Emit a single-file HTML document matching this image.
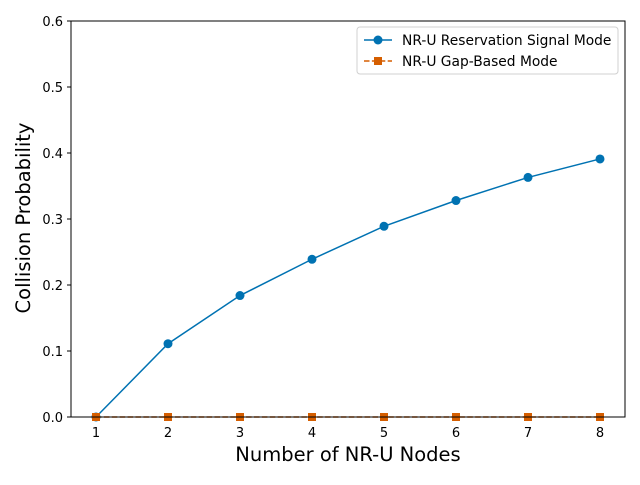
<!DOCTYPE html>
<html><head><meta charset="utf-8"><style>
body{margin:0;background:#fff}
svg text{font-family:"DejaVu Sans","Liberation Sans",sans-serif;fill:#000}
</style></head><body>
<svg id="chart" width="640" height="480" viewBox="0 0 640 480">
<rect x="0" y="0" width="640" height="480" fill="#fff"/>
<g id="grid"></g>
<g id="series"></g>
<rect x="71" y="21" width="554" height="396" fill="none" stroke="#000" stroke-width="1"/>
<text x="348" y="461" font-size="19.5" text-anchor="middle">Number of NR-U Nodes</text>
<text transform="translate(30,218) rotate(-90)" font-size="19.5" text-anchor="middle">Collision Probability</text>
<g>
<rect x="357" y="27" width="261" height="47" rx="3" fill="#fff" stroke="#ccc" opacity="0.9"/>
<g>
<line x1="364" y1="40" x2="392" y2="40" stroke="#0072B2" stroke-width="1.5"/>
<circle cx="378" cy="40" r="4.5" fill="#0072B2"/>
<text x="402" y="45" font-size="13.8">NR-U Reservation Signal Mode</text>
</g>
<g>
<line x1="364" y1="61" x2="392" y2="61" stroke="#D55E00" stroke-width="1.5" stroke-dasharray="5.5,2.4"/>
<rect x="374" y="57" width="8" height="8" fill="#D55E00"/>
<text x="402" y="66" font-size="13.8">NR-U Gap-Based Mode</text>
</g>
</g>
</svg>
<script>
const nodes=[1,2,3,4,5,6,7,8];
const reservation=[0,0.111,0.184,0.239,0.289,0.328,0.363,0.391];
const gapBased=[0,0,0,0,0,0,0,0];
const yTicks=[0,0.1,0.2,0.3,0.4,0.5,0.6];
const yTickLabels=["0.0","0.1","0.2","0.3","0.4","0.5","0.6"];
const NS="http://www.w3.org/2000/svg";
function xs(v){return 96+(v-1)*72;}
function ys(v){return 417-v*660;}
const grid=document.getElementById('grid'),ser=document.getElementById('series');
function mk(tag,attrs,parent){const e=document.createElementNS(NS,tag);for(const k in attrs)e.setAttribute(k,attrs[k]);parent.appendChild(e);return e;}
nodes.forEach(n=>{
 const t=mk('line',{x1:xs(n),x2:xs(n),y1:417,y2:421,stroke:'#000'},grid);
 
 
 const l=mk('text',{x:xs(n),y:437,'font-size':13,'text-anchor':'middle'},grid);
 l.textContent=n;
 
 
});
yTicks.forEach((v,i)=>{
 const t=mk('line',{x1:67,x2:71,y1:ys(v),y2:ys(v),stroke:'#000'},grid);
 
 
 const l=mk('text',{x:63,y:ys(v)+5,'font-size':13,'text-anchor':'end'},grid);
 l.textContent=yTickLabels[i];
 
 
});
const p1=mk('polyline',{points:nodes.map((n,i)=>xs(n)+','+ys(reservation[i])).join(' '),fill:'none',stroke:'#0072B2','stroke-width':1.5},ser);


const p2=mk('polyline',{points:nodes.map((n,i)=>xs(n)+','+ys(gapBased[i])).join(' '),fill:'none',stroke:'#D55E00','stroke-width':1.5,'stroke-dasharray':'5.5,2.4'},ser);


nodes.forEach((n,i)=>{
 const c=mk('circle',{cx:xs(n),cy:ys(reservation[i]),r:4.5,fill:'#0072B2'},ser);
 
 
 const r=mk('rect',{x:xs(n)-4,y:ys(gapBased[i])-4,width:8,height:8,fill:'#D55E00'},ser);
 
 
});
</script>
</body></html>
